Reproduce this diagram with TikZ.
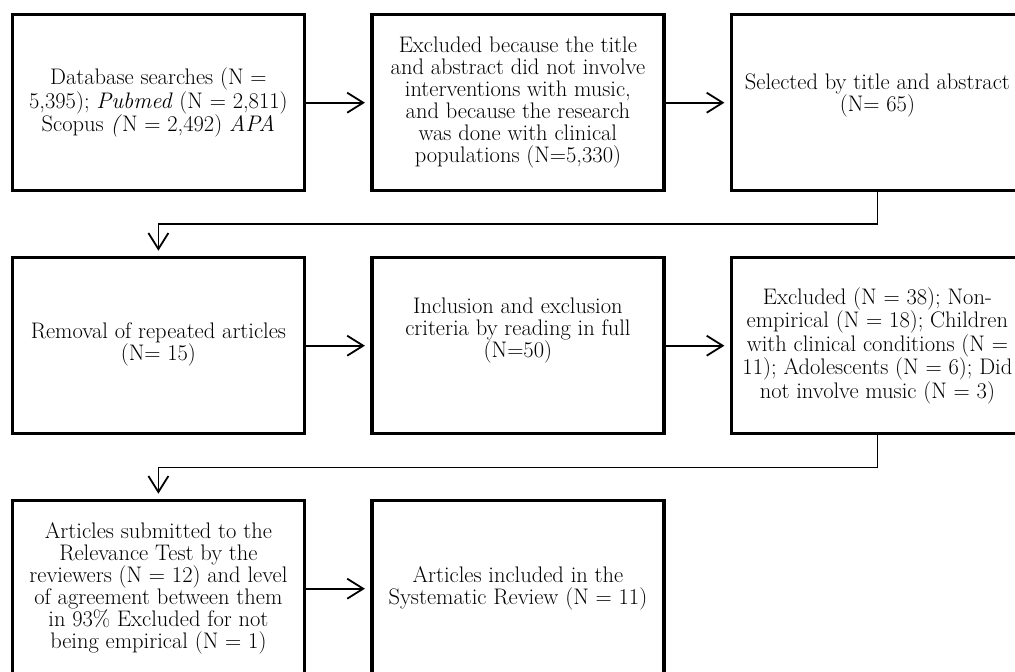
\documentclass[tikz,border=0pt]{standalone}
\usepackage{tikz}
\usetikzlibrary{
  arrows.meta,
  positioning,  % right=of, below=of
}
\def\myrowdist{67pt}
\def\mycoldist{67.5pt}
\tikzset{
  font=\fontsize{22.5}{22}\selectfont,
  >={Straight Barb[length=16pt,width=20pt]},
  flow box/.style={
    draw,
    line width=3.3pt,
    minimum width=292pt,
    minimum height=176pt,
    inner sep=0pt,
    outer sep=0pt,
    align=center
  },
  box text/.style={
    inner sep=0pt,
    align=center
  },
  tight/.style={
    font=\fontsize{22.5}{17.5}\selectfont
  },
  flow arrow/.style={
    ->,
    line width=1.8pt,
    shorten >=7pt
  }
}
\begin{document}
\begin{tikzpicture}[x=1pt,y=1pt,node distance=\myrowdist and \mycoldist]
\useasboundingbox (0,0) rectangle (1015,-672);
% first row
\node[flow box] (search) at (158.4,-102.7)
  {Database searches (N =\\5,395); \textit{Pubmed} (N = 2,811)\\Scopus \textit{(}N = 2,492) \textit{APA}};
\node[flow box] (excl) [right=of search]
  {Excluded because the title\\and abstract did not involve\\interventions with music,\\and because the research\\was done with clinical\\populations (N=5,330)};
\node[flow box] (sel) [right=of excl] {};
\node[box text,tight] (sel txt) at ([yshift=7]sel.center)
  {Selected by title and abstract\\(N= 65)};
% second row
\node[flow box] (rem) [below=of search] {};
\node[box text,tight] (rem txt) at ([yshift=1.5]rem.center)
  {Removal of repeated articles\\(N= 15)};
\node[flow box] (crit) [right=of rem] {};
\node[box text] (crit txt) at ([yshift=15]crit.center)
  {Inclusion and exclusion\\criteria by reading in full\\(N=50)};
\node[flow box] (drop) [right=of crit]
  {Excluded (N = 38); Non-\\empirical (N = 18); Children\\with clinical conditions (N =\\11); Adolescents (N = 6); Did\\not involve music (N = 3)};
% third row
\node[flow box] (rel) [below=of rem]
  {Articles submitted to the\\Relevance Test by the\\reviewers (N = 12) and level\\of agreement between them\\in 93\% Excluded for not\\being empirical (N = 1)};
\node[flow box] (incl) [right=of rel]
  {Articles included in the\\Systematic Review (N = 11)};
% connectors
\draw[flow arrow] (search) -- (excl);
\draw[flow arrow] (excl) -- (sel);
\draw[flow arrow] (sel.south) -- ++(0,-33.5) -| (rem.north);
\draw[flow arrow] (rem) -- (crit);
\draw[flow arrow] (crit) -- (drop);
\draw[flow arrow] (drop.south) -- ++(0,-33.8) -| (rel.north);
\draw[flow arrow] (rel) -- (incl);
\end{tikzpicture}
\end{document}
